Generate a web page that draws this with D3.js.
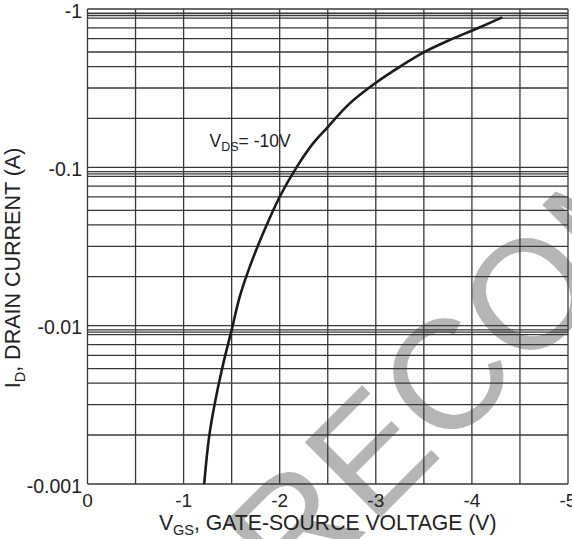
<!DOCTYPE html>
<html>
<head>
<meta charset="utf-8">
<script src="https://cdnjs.cloudflare.com/ajax/libs/d3/7.8.5/d3.min.js"></script>
<style>
  body { margin: 0; background: #fff; }
  svg { display: block; font-family: 'Liberation Sans', Arial, sans-serif; }
</style>
</head>
<body>
<svg></svg>
<script>
// transfer curve, VDS = -10V
let vgs = [-1.214, -1.266, -1.325, -1.405, -1.5, -1.585, -1.689, -1.827, -2.0, -2.175,
           -2.347, -2.503, -2.729, -3.0, -3.248, -3.508, -3.767, -4.01, -4.316]
let idrain = [-0.001, -0.002, -0.00324, -0.0055, -0.0094, -0.0153, -0.0236, -0.0383, -0.0652, -0.1,
              -0.1416, -0.1804, -0.2535, -0.342, -0.4315, -0.536, -0.636, -0.734, -0.885]

let xTicks = [0, -1, -2, -3, -4, -5]
let xTickLabels = ['0', '-1', '-2', '-3', '-4', '-5']
let xGrid = [0, -0.5, -1, -1.5, -2, -2.5, -3, -3.5, -4, -4.5, -5]

let yTicks = [-1, -0.1, -0.01, -0.001]
let yTickLabels = ['-1', '-0.1', '-0.01', '-0.001']
let decades = [-1, -0.1, -0.01]
// minor lines inside each decade as they are drawn (not quite true log spacing)
let gridSteps = [0.94, 0.91, 0.877, 0.76, 0.65, 0.535, 0.433, 0.317, 0.204]

let width = 572
let height = 539
let plotLeft = 87.5
let plotRight = 568
let plotTop = 9
let plotBottom = 484

let svg = d3.select('svg')
  .attr('width', width)
  .attr('height', height)

let xScale = d3.scaleLinear()
  .domain([0, -5])
  .range([plotLeft, plotRight])

let yScale = d3.scaleLog()
  .domain([-0.001, -1])
  .range([plotBottom, plotTop])

// watermark sits behind everything
svg.append('text')
  .attr('transform', 'translate(292, 606) rotate(-45)')
  .attr('font-size', 155)
  .attr('fill', '#b5b5b5')
  .text('RECOMMENDED')

let grid = svg.append('g')
  .attr('stroke', '#383838')
  .attr('stroke-width', 1.3)

let hLines = yTicks.concat(decades.flatMap(d => gridSteps.map(m => d * m)))

grid.selectAll('.h')
  .data(hLines)
  .enter()
  .append('line')
  .attr('class', 'h')
  .attr('x1', plotLeft)
  .attr('x2', plotRight)
  .attr('y1', d => yScale(d))
  .attr('y2', d => yScale(d))

grid.selectAll('.v')
  .data(xGrid)
  .enter()
  .append('line')
  .attr('class', 'v')
  .attr('x1', d => xScale(d))
  .attr('x2', d => xScale(d))
  .attr('y1', plotTop)
  .attr('y2', plotBottom)

// curve
let points = vgs.map((v, i) => [v, idrain[i]])

let line = d3.line()
  .x(d => xScale(d[0]))
  .y(d => yScale(d[1]))
  .curve(d3.curveCatmullRom)

svg.append('path')
  .datum(points)
  .attr('d', line)
  .attr('fill', 'none')
  .attr('stroke', '#1a1a1a')
  .attr('stroke-width', 2.6)

// tick labels
svg.selectAll('.xlabel')
  .data(xTicks)
  .enter()
  .append('text')
  .attr('class', 'xlabel')
  .attr('x', d => xScale(d))
  .attr('y', 507)
  .attr('text-anchor', 'middle')
  .attr('font-size', 19)
  .attr('fill', '#222')
  .text((d, i) => xTickLabels[i])

svg.selectAll('.ylabel')
  .data(yTicks)
  .enter()
  .append('text')
  .attr('class', 'ylabel')
  .attr('x', 82)
  .attr('y', d => yScale(d))
  .attr('dy', '0.45em')
  .attr('text-anchor', 'end')
  .attr('font-size', 19.5)
  .attr('fill', '#222')
  .text((d, i) => yTickLabels[i])

// axis titles
let xTitle = svg.append('text')
  .attr('x', (plotLeft + plotRight) / 2)
  .attr('y', 530)
  .attr('text-anchor', 'middle')
  .attr('font-size', 21.2)
  .attr('fill', '#222')
xTitle.append('tspan').text('V')
xTitle.append('tspan').attr('font-size', 14.5).attr('dy', 5).text('GS')
xTitle.append('tspan').attr('dy', -5).text(', GATE-SOURCE VOLTAGE (V)')

let yTitle = svg.append('text')
  .attr('transform', 'translate(20, 268) rotate(-90)')
  .attr('text-anchor', 'middle')
  .attr('font-size', 21.5)
  .attr('fill', '#222')
yTitle.append('tspan').text('I')
yTitle.append('tspan').attr('font-size', 14.5).attr('dy', 5).text('D')
yTitle.append('tspan').attr('dy', -5).text(', DRAIN CURRENT (A)')

// condition label
let note = svg.append('text')
  .attr('x', xScale(-1.27))
  .attr('y', yScale(-0.135))
  .attr('font-size', 17.5)
  .attr('fill', '#222')
note.append('tspan').text('V')
note.append('tspan').attr('font-size', 12.5).attr('dy', 4).text('DS')
note.append('tspan').attr('dy', -4).text('= -10V')
</script>
</body>
</html>
